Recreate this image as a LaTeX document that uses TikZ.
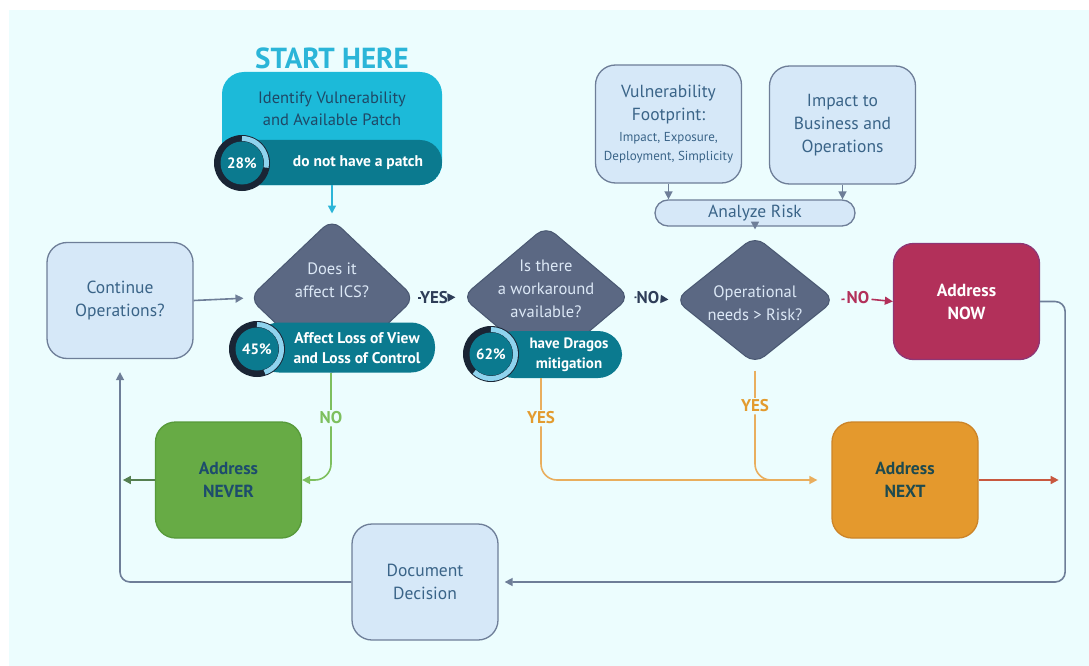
\documentclass[tikz,border=0pt]{standalone}
\usepackage{fontspec}
\setmainfont{PT Sans}
\usetikzlibrary{shapes.geometric,arrows.meta}

\definecolor{bgcyan}{HTML}{ECFDFE}
\definecolor{startcol}{HTML}{2BB5D8}
\definecolor{teallight}{HTML}{1CBAD9}
\definecolor{tealdark}{HTML}{0B7A8F}
\definecolor{navytext}{HTML}{1F4866}
\definecolor{ringdark}{HTML}{1A2535}
\definecolor{ringlight}{HTML}{8FD3EE}
\definecolor{diafill}{HTML}{5B6883}
\definecolor{diadraw}{HTML}{4A5872}
\definecolor{diatext}{HTML}{DCE8F6}
\definecolor{boxfill}{HTML}{D6E8F8}
\definecolor{boxline}{HTML}{6E7E98}
\definecolor{boxtext}{HTML}{3A6488}
\definecolor{nowfill}{HTML}{B2305A}
\definecolor{nowline}{HTML}{8E3675}
\definecolor{nextfill}{HTML}{E4992D}
\definecolor{nextline}{HTML}{CC8428}
\definecolor{nexttext}{HTML}{1E4A4E}
\definecolor{neverfill}{HTML}{67AB45}
\definecolor{neverline}{HTML}{579A3A}
\definecolor{nevertext}{HTML}{1D4C6C}
\definecolor{yesdark}{HTML}{2E3D58}
\definecolor{nogreen}{HTML}{7DBF5E}
\definecolor{yesorange}{HTML}{E9AE5E}
\definecolor{yeslabel}{HTML}{E39B2E}
\definecolor{nextout}{HTML}{C8583F}
\definecolor{neverout}{HTML}{557F50}

% percentage ring: x, y, percent, name
\newcommand{\pctring}[4]{%
  \fill[ringdark] (#1,#2) circle (28pt);
  \draw[ringlight, line width=5pt] (#1,#2) ++(0,24.5) arc[start angle=90, end angle={90-3.6*#3}, radius=24.5pt];
  \fill[tealdark] (#1,#2) circle (21.5pt);
  \node[pcttxt] (#4) at (#1,#2) {#3\%};
}

\begin{document}
\begin{tikzpicture}[x=1pt,y=1pt]
	\tikzstyle{every node}+=[inner sep=0pt, align=center, font=\fontsize{17.5}{23}\selectfont]
	\tikzstyle{box}=[draw=boxline, line width=1.3pt, fill=boxfill, text=boxtext, rounded corners=20pt, minimum width=146pt, minimum height=116pt]
	\tikzstyle{dia}=[diamond, draw=diadraw, line width=1pt, fill=diafill, rounded corners=12pt]
	\tikzstyle{diatxt}=[text=diatext, font=\fontsize{16.5}{23}\selectfont]
	\tikzstyle{pill}=[fill=tealdark, rounded corners=24pt]
	\tikzstyle{bartxt}=[text=white, font=\fontsize{15.5}{20}\selectfont\bfseries]
	\tikzstyle{pcttxt}=[text=white, font=\fontsize{15}{16}\selectfont\bfseries]
	\tikzstyle{lbl}=[inner sep=2pt, font=\fontsize{17}{18}\selectfont\bfseries]
	\tikzstyle{ln}=[line width=1.6pt]
	\tikzstyle{arr}=[line width=1.6pt, -{Triangle[length=8pt,width=8pt]}]
	% background
	\fill[white] (0,0) rectangle (1089,-666);
	\fill[bgcyan] (9,-10) rectangle (1089,-666);
	% start box
	\node[text=startcol, font=\fontsize{29}{32}\selectfont\bfseries] (start) at (332,-58) {START HERE};
	\node[fill=teallight, rounded corners=22pt, minimum width=220pt, minimum height=113pt,
		path picture={\fill[tealdark] ([yshift=45pt]path picture bounding box.south west) rectangle (path picture bounding box.south east);}]
		(ident) at (332,-128.5) {};
	\node[text=navytext, font=\fontsize{16.5}{22}\selectfont] (identtxt) at (332,-109) {Identify Vulnerability\\and Available Patch};
	\node[bartxt] (patchtxt) at (358,-163) {do not have a patch};
	\pctring{242}{-163}{28}{ring1}
	% decisions
	\node[dia, minimum width=166pt, minimum height=158pt] (ics) at (332,-298) {};
	\node[dia, minimum width=168pt, minimum height=142pt] (wa) at (546,-297) {};
	\node[dia, minimum width=160pt, minimum height=128pt] (risk) at (755,-300) {};
	\node[diatxt] (icstxt) at (332,-280) {Does it\\affect ICS?};
	\node[diatxt] (watxt) at (546,-289) {Is there\\a workaround\\available?};
	\node[diatxt] (risktxt) at (755,-303) {Operational\\needs > Risk?};
	\node[pill, minimum width=180pt, minimum height=50pt] (lossbar) at (345,-347.5) {};
	\node[pill, minimum width=132pt, minimum height=47pt] (drabar) at (556,-354.5) {};
	\pctring{257}{-349}{45}{ring2}
	\pctring{491}{-354}{62}{ring3}
	\node[bartxt] (losstxt) at (357,-348) {Affect Loss of View\\and Loss of Control};
	\node[bartxt, font=\fontsize{15}{20}\selectfont\bfseries] (dratxt) at (569,-355) {have Dragos\\mitigation};
	% boxes
	\node[box] (cont) at (120,-300.5) {Continue\\Operations?};
	\node[box, minimum height=118pt] (foot) at (668.5,-124) {Vulnerability\\Footprint:\\[-2pt]{\fontsize{13}{19}\selectfont Impact, Exposure,}\\[-4pt]{\fontsize{13}{19}\selectfont Deployment, Simplicity}};
	\node[box, minimum height=118pt] (impact) at (842.5,-125) {Impact to\\Business and\\Operations};
	\node[box, rounded corners=13pt, minimum width=200pt, minimum height=26pt] (ana) at (755,-213) {Analyze Risk};
	\node[box, fill=nowfill, draw=nowline, text=white, font=\fontsize{17.5}{23}\selectfont\bfseries] (now) at (966.5,-301.5) {Address\\NOW};
	\node[box, fill=nextfill, draw=nextline, text=nexttext, font=\fontsize{17.5}{23}\selectfont\bfseries] (next) at (905,-480) {Address\\NEXT};
	\node[box, fill=neverfill, draw=neverline, text=nevertext, font=\fontsize{17.5}{23}\selectfont\bfseries] (never) at (228.5,-480) {Address\\NEVER};
	\node[box] (docu) at (425,-582) {Document\\Decision};
	% labels
	\node[lbl, text=yesdark] (yes1) at (434,-298) {YES};
	\node[lbl, text=yesdark] (no1) at (648,-298) {NO};
	\node[lbl, text=nowfill] (no2) at (858,-298) {NO};
	\node[lbl, text=nogreen] (no3) at (331,-418) {NO};
	\node[lbl, text=yeslabel] (yes2) at (541,-418) {YES};
	\node[lbl, text=yeslabel] (yes3) at (755,-406) {YES};
	% connectors
	\draw[arr, startcol, shorten >=5pt] (ident.south) -- (ics.north);
	\draw[arr, boxline, shorten >=5pt] (cont.east) -- (ics.west);
	\draw[ln, yesdark, shorten <=5pt] (ics.east) -- (yes1);
	\draw[arr, yesdark, shorten >=6pt] (yes1) -- (wa.west);
	\draw[ln, yesdark, shorten <=6pt] (wa.east) -- (no1);
	\draw[arr, yesdark, shorten >=6pt] (no1) -- (risk.west);
	\draw[ln, nowfill, shorten <=6pt] (risk.east) -- (no2);
	\draw[arr, nowfill] (no2) -- (now.west);
	\draw[arr, boxline] (foot.south) -- (foot.south |- ana.north);
	\draw[arr, boxline] (impact.south) -- (impact.south |- ana.north);
	\draw[arr, boxline, shorten >=6pt] (ana.south) -- (risk.north);
	\draw[ln, nogreen] (no3 |- lossbar.south) -- (no3);
	\draw[arr, nogreen, rounded corners=16pt] (no3) -- (no3 |- never.east) -- (never.east);
	\draw[arr, neverout] (never.west) -- ++(-32,0);
	\draw[ln, yesorange] (yes2 |- drabar.south) -- (yes2);
	\draw[arr, yesorange, rounded corners=16pt, shorten >=14pt] (yes2) -- (yes2 |- next.west) -- (next.west);
	\draw[ln, yesorange, shorten <=6pt] (risk.south) -- (yes3);
	\draw[ln, yesorange, rounded corners=16pt] (yes3) -- (yes3 |- next.west) -- ++(20,0);
	\draw[arr, nextout] (next.east) -- ++(80,0);
	\draw[arr, boxline, rounded corners=10pt, shorten >=6pt] (now.east) -- ++(25,0) |- (docu.east);
	\draw[arr, boxline, rounded corners=10pt, shorten >=13pt] (docu.west) -| (cont.south);
\end{tikzpicture}
\end{document}
